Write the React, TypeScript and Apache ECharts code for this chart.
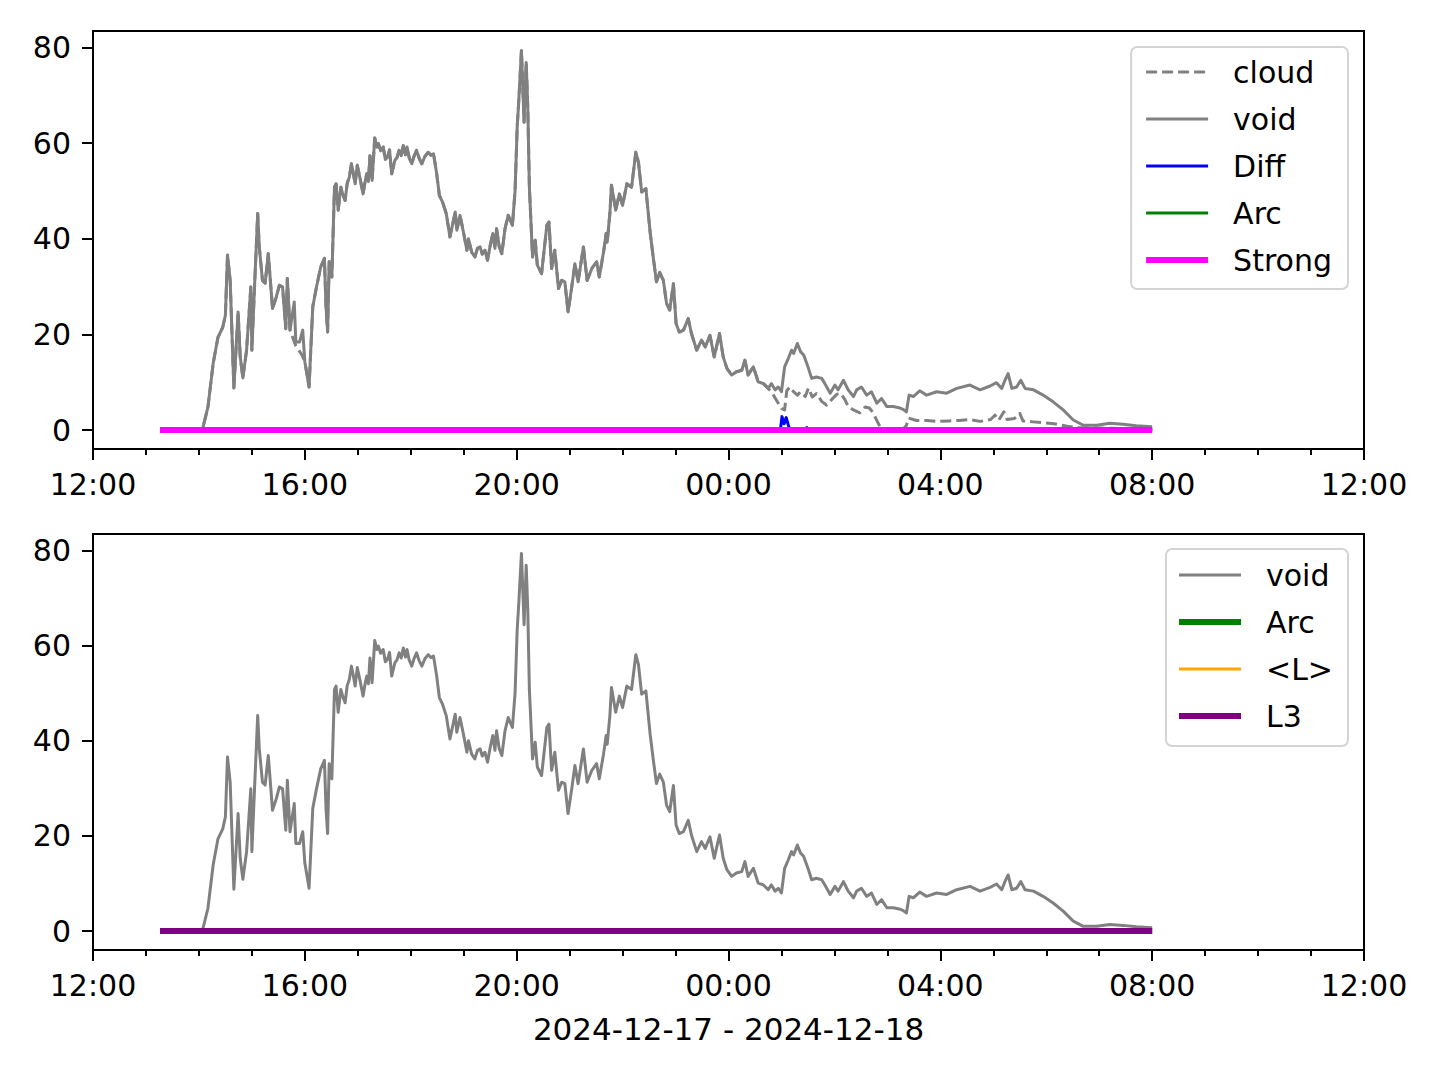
import React, { useEffect, useRef } from "react";
import * as echarts from "echarts";

// x values are hours after 2024-12-17 12:00
const xTickLabels = ["12:00", "16:00", "20:00", "00:00", "04:00", "08:00", "12:00"];
const yTickValues = [0, 20, 40, 60, 80];
const dateLabel = "2024-12-17 - 2024-12-18";

const voidPoints: [number, number][] = [
  [1.265, 0], [2.05, 0], [2.08, 0.7], [2.17, 4.8], [2.27, 14], [2.36, 19.4], [2.45, 21.5], [2.5, 24],
  [2.54, 36.6], [2.59, 31.3], [2.66, 8.8], [2.74, 24.7], [2.78, 15.3], [2.83, 10.9], [2.9, 16.7],
  [2.98, 29.9], [3.0, 16.7], [3.05, 29.9], [3.11, 45.3], [3.14, 38.3], [3.2, 31.3], [3.25, 30.7],
  [3.31, 36.9], [3.39, 25.4], [3.46, 27.8], [3.52, 30.3], [3.58, 29.9], [3.64, 21.2], [3.67, 31.7],
  [3.72, 20.9], [3.8, 26.8], [3.83, 18.4], [3.9, 18.4], [3.96, 20.9], [4.0, 14.3], [4.08, 9.0],
  [4.15, 25.8], [4.22, 29.9], [4.3, 34.1], [4.37, 35.9], [4.4, 25.8], [4.43, 20.5], [4.46, 35.2],
  [4.51, 32.0], [4.56, 50.8], [4.59, 51.5], [4.63, 46.0], [4.68, 50.8], [4.72, 49.2], [4.76, 48.0],
  [4.8, 51.6], [4.84, 52.9], [4.88, 55.7], [4.92, 53.4], [4.95, 51.5], [4.99, 55.4], [5.04, 52.8],
  [5.1, 49.4], [5.14, 52.1], [5.17, 53.6], [5.2, 52.0], [5.23, 57.4], [5.27, 52.2], [5.32, 61.1],
  [5.36, 59.2], [5.39, 59.9], [5.43, 58.4], [5.48, 59.2], [5.52, 56.6], [5.56, 57.1], [5.6, 58.6],
  [5.64, 53.6], [5.7, 56.4], [5.74, 57.0], [5.78, 58.5], [5.82, 57.4], [5.86, 59.5], [5.9, 57.6],
  [5.93, 59.2], [5.97, 57.0], [6.02, 55.7], [6.06, 57.2], [6.11, 58.5], [6.16, 56.8], [6.21, 55.7],
  [6.27, 57.3], [6.33, 58.1], [6.38, 57.5], [6.43, 57.8],
  [6.49, 53.6], [6.54, 49.1], [6.6, 47.7], [6.67, 45.3], [6.74, 40.4], [6.84, 45.6], [6.87, 41.8],
  [6.93, 44.9], [7.0, 41.1], [7.06, 37.6], [7.09, 40.0], [7.15, 37.2], [7.21, 36.2], [7.26, 38.0],
  [7.31, 38.3], [7.35, 36.8], [7.4, 37.6], [7.45, 35.5], [7.5, 38.6], [7.55, 41.1], [7.59, 38.0],
  [7.62, 42.1], [7.67, 38.4], [7.72, 36.9], [7.78, 42.1],
  [7.84, 44.9], [7.92, 42.8], [7.97, 50.1], [8.01, 63.4], [8.04, 68.9], [8.09, 79.4], [8.14, 64.4],
  [8.18, 76.9], [8.21, 67.5], [8.24, 50.8], [8.3, 36.2], [8.35, 39.7], [8.39, 34.5], [8.47, 32.7],
  [8.57, 42.8], [8.61, 43.5], [8.66, 33.8], [8.72, 37.6], [8.79, 29.6], [8.85, 31.3], [8.91, 31.0],
  [8.97, 24.7], [9.04, 29.9], [9.1, 34.8], [9.16, 31.0], [9.26, 38.3], [9.33, 31.3], [9.42, 33.8],
  [9.51, 35.2], [9.56, 32.0], [9.64, 37.2], [9.69, 41.1], [9.71, 39.3], [9.76, 45.3], [9.79, 51.2],
  [9.87, 46.0], [9.94, 49.4], [10.0, 47.0], [10.08, 51.5], [10.17, 50.8], [10.25, 58.1], [10.3, 56.0],
  [10.36, 49.8], [10.44, 50.5], [10.52, 41.4], [10.58, 36.0], [10.64, 31.0], [10.7, 33.0],
  [10.77, 31.3], [10.83, 26.5], [10.89, 25.1], [10.96, 30.6], [11.01, 22.3], [11.07, 20.5],
  [11.15, 20.9], [11.24, 23.3], [11.3, 20.2], [11.4, 16.7], [11.49, 18.8], [11.56, 17.4],
  [11.65, 19.8], [11.73, 15.3], [11.83, 20.2], [11.9, 15.3], [11.97, 12.9], [12.06, 11.5],
  [12.15, 12.2], [12.25, 12.5], [12.31, 14.6], [12.37, 11.5], [12.47, 13.2], [12.56, 10.1],
  [12.66, 9.7], [12.75, 8.7], [12.81, 9.7], [12.88, 8.4], [12.94, 9.0], [13.0, 8.0], [13.06, 13.2],
  [13.13, 15.0], [13.19, 16.7], [13.23, 16.0], [13.3, 18.1], [13.36, 16.4], [13.42, 15.7],
  [13.51, 12.9], [13.57, 10.8], [13.66, 11.1], [13.76, 10.8], [13.82, 9.7], [13.92, 7.7], [14.01, 9.4],
  [14.07, 8.4], [14.17, 10.4], [14.26, 8.4], [14.36, 7.0], [14.42, 8.4], [14.51, 9.0], [14.61, 7.3],
  [14.7, 8.0], [14.8, 5.6], [14.89, 6.6], [14.99, 4.9], [15.11, 4.9], [15.24, 4.6], [15.3, 4.3],
  [15.36, 3.8], [15.41, 7.3], [15.49, 7.0], [15.61, 8.2], [15.74, 7.3], [15.93, 8.0], [16.12, 7.7],
  [16.31, 8.7], [16.56, 9.4], [16.75, 8.4], [16.94, 9.2], [17.06, 9.9], [17.16, 8.7], [17.22, 10.4],
  [17.28, 11.8], [17.35, 8.7], [17.44, 9.0], [17.52, 10.4], [17.6, 8.7], [17.76, 8.4], [17.94, 7.3],
  [18.13, 5.9], [18.32, 4.2], [18.51, 2.1], [18.7, 1.0], [18.95, 1.0], [19.2, 1.4], [19.45, 1.2],
  [19.7, 0.9], [20.0, 0.7],
];

// where the cloud line departs from the void line
const cloudDip: [number, number][] = [[3.83, 17.6], [3.88, 16.8], [3.94, 15.8]];
const cloudTail: [number, number][] = [
  [12.75, 8.7], [12.81, 8.0], [12.88, 6.7], [12.94, 5.6], [13.0, 4.5], [13.06, 4.2], [13.1, 8.2],
  [13.16, 9.0], [13.23, 8.0], [13.3, 7.3], [13.36, 8.0], [13.45, 7.0], [13.51, 8.8], [13.58, 6.9],
  [13.66, 7.6], [13.76, 6.0], [13.85, 5.2], [13.95, 6.4], [14.05, 7.5], [14.12, 7.7], [14.2, 6.3],
  [14.26, 4.9], [14.36, 4.2], [14.48, 3.6], [14.58, 4.8], [14.66, 4.6], [14.73, 3.6], [14.8, 2.0],
  [14.86, 0.7], [14.95, 0.2], [15.3, 0.2], [15.36, 1.0], [15.4, 2.5], [15.55, 2.0], [15.75, 2.0],
  [15.95, 1.8], [16.15, 1.9], [16.35, 2.0], [16.55, 2.2], [16.75, 1.8], [16.95, 2.2], [17.03, 3.1],
  [17.1, 2.0], [17.2, 3.8], [17.26, 2.2], [17.4, 2.4], [17.5, 3.5], [17.56, 1.9], [17.75, 1.7],
  [17.95, 1.5], [18.15, 1.3], [18.4, 0.8], [18.6, 0.5], [19.0, 0.4], [19.5, 0.3], [20.0, 0.3],
];

const diffPoints: [number, number][] = [
  [1.265, 0], [12.98, 0], [13.01, 2.8], [13.05, 1.3], [13.09, 2.6], [13.13, 1.0], [13.16, 0],
  [13.45, 0], [13.48, 0.5], [13.51, 0], [20.0, 0],
];
const arcPoints: [number, number][] = [[1.265, 0], [20.0, 0]];
const strongPoints: [number, number][] = [[1.265, 0], [20.0, 0]];
const lAvgPoints: [number, number][] = [[1.265, 0], [20.0, 0]];
const l3Points: [number, number][] = [[1.265, 0], [20.0, 0]];

const cloudPoints: [number, number][] = [
  ...voidPoints.filter((p) => p[0] < 3.8),
  ...cloudDip,
  ...voidPoints.filter((p) => p[0] >= 4.0 && p[0] < 12.75),
  ...cloudTail,
];

const FONT = "DejaVu Sans";
const GREY = "#808080";
const THIN = 3;
const THICK = 6;
const DASH = [11, 5];

function line(name: string, data: [number, number][], idx: number, color: string, width: number, type: any = "solid") {
  return {
    type: "line",
    name,
    data,
    xAxisIndex: idx,
    yAxisIndex: idx,
    symbol: "none",
    showSymbol: false,
    silent: true,
    lineStyle: { color, width, type, join: "round" },
    itemStyle: { color },
  };
}

function xAxis(idx: number, withName: boolean) {
  return {
    type: "value",
    gridIndex: idx,
    min: 0,
    max: 24,
    interval: 4,
    axisLine: { show: true, onZero: false, lineStyle: { color: "#000", width: 2 } },
    axisTick: { show: true, length: 11, lineStyle: { color: "#000", width: 2 } },
    minorTick: { show: true, splitNumber: 4, length: 6, lineStyle: { color: "#000", width: 2 } },
    splitLine: { show: false },
    minorSplitLine: { show: false },
    axisLabel: {
      show: true,
      margin: 20,
      color: "#000",
      fontFamily: FONT,
      fontSize: 30,
      showMinLabel: true,
      showMaxLabel: true,
      formatter: (v: number) => xTickLabels[Math.round(v / 4)] ?? "",
    },
    name: withName ? dateLabel : "",
    nameLocation: "middle",
    nameGap: 63,
    nameTextStyle: { color: "#000", fontFamily: FONT, fontSize: 31 },
  };
}

function yAxis(idx: number) {
  return {
    type: "value",
    gridIndex: idx,
    min: -3.975,
    max: 83.475,
    axisLine: { show: true, onZero: false, lineStyle: { color: "#000", width: 2 } },
    axisTick: { show: true, length: 11, customValues: yTickValues, lineStyle: { color: "#000", width: 2 } },
    splitLine: { show: false },
    axisLabel: {
      show: true,
      margin: 22,
      color: "#000",
      fontFamily: FONT,
      fontSize: 30,
      customValues: yTickValues,
    },
  };
}

const legendBase = {
  orient: "vertical",
  right: 92,
  itemWidth: 62,
  itemHeight: 14,
  itemGap: 17,
  backgroundColor: "rgba(255,255,255,0.8)",
  borderColor: "#d4d4d4",
  borderWidth: 2,
  borderRadius: 6,
  selectedMode: false,
  itemStyle: { opacity: 0 },
  textStyle: { fontFamily: FONT, fontSize: 30, color: "#000", lineHeight: 30, padding: [0, 0, 0, 20] },
};

export default function App() {
  const ref = useRef<HTMLDivElement>(null);
  useEffect(() => {
    document.body.style.margin = "0";
    if (!ref.current) return;
    const chart = echarts.init(ref.current, undefined, { renderer: "svg" });
    chart.setOption({
      animation: false,
      backgroundColor: "#fff",
      textStyle: { fontFamily: FONT },
      grid: [
        { left: 93, right: 76, top: 31, height: 418, show: true, borderColor: "#000", borderWidth: 2 },
        { left: 93, right: 76, top: 534, height: 416, show: true, borderColor: "#000", borderWidth: 2 },
      ],
      xAxis: [xAxis(0, false), xAxis(1, true)],
      yAxis: [yAxis(0), yAxis(1)],
      legend: [
        {
          ...legendBase,
          top: 47,
          padding: [10, 16, 14, 12],
          data: [
            { name: "cloud", lineStyle: { width: THIN, type: DASH } },
            { name: "void", lineStyle: { width: THIN } },
            { name: "Diff", lineStyle: { width: THIN } },
            { name: "Arc", lineStyle: { width: THIN } },
            { name: "Strong", lineStyle: { width: THICK } },
          ],
        },
        {
          ...legendBase,
          top: 549,
          padding: [11, 15, 15, 10],
          data: [
            { name: "void", lineStyle: { width: THIN } },
            { name: "Arc", lineStyle: { width: THICK } },
            { name: "<L>", lineStyle: { width: THIN } },
            { name: "L3", lineStyle: { width: THICK } },
          ],
        },
      ],
      series: [
        line("cloud", cloudPoints, 0, GREY, THIN, DASH),
        line("void", voidPoints, 0, GREY, THIN),
        line("Diff", diffPoints, 0, "#0000ff", THIN),
        line("Arc", arcPoints, 0, "#008000", THIN),
        line("Strong", strongPoints, 0, "#ff00ff", THICK),
        line("void", voidPoints, 1, GREY, THIN),
        line("Arc", arcPoints, 1, "#008000", THICK),
        line("<L>", lAvgPoints, 1, "#ffa500", THIN),
        line("L3", l3Points, 1, "#800080", THICK),
      ],
    });
    return () => chart.dispose();
  }, []);
  return <div ref={ref} style={{ width: 1440, height: 1080 }} />;
}
